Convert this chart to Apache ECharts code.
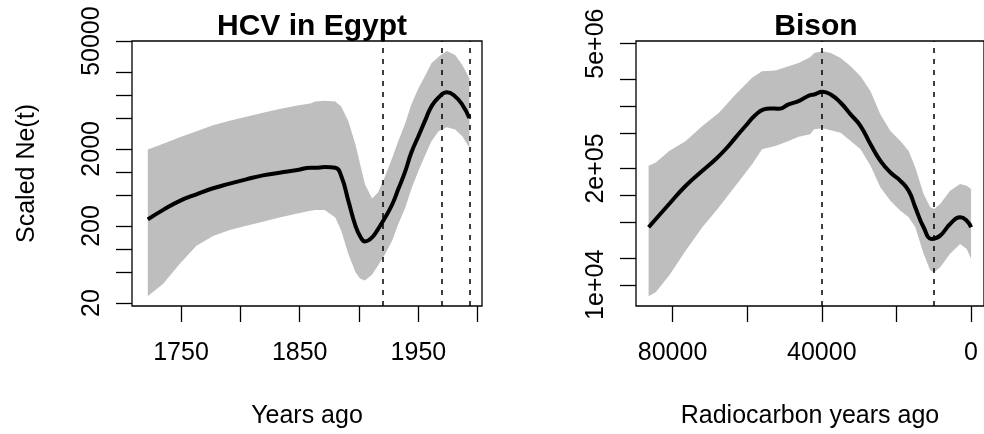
<!DOCTYPE html>
<html><head><meta charset="utf-8">
<script src="https://cdn.jsdelivr.net/npm/echarts@6/dist/echarts.min.js"></script>
<style>html,body{margin:0;padding:0;background:#fff}#c{width:984px;height:434px}</style>
</head><body><div id="c"></div>
<script>
// ---- HCV in Egypt ----
const hcvYears  = [1722,1735,1749,1763,1777,1791,1805,1819,1833,1848,1859,1863,1871,1880,1885,1891,1897,1901,1905,1911,1916,1922,1928,1933,1939,1944,1950,1956,1961,1967,1974,1981,1987,1993];
const hcvMedian = [243,323,423,515,616,707,804,906,980,1061,1137,1137,1160,1137,888,423,201,146,126,142,182,257,382,597,1030,1776,2914,4780,7105,9283,10870,9566,7466,5024];
const hcvUpper  = [1961,2320,2829,3381,4041,4641,5226,5888,6566,7319,7770,8245,8409,8245,7105,4550,2275,1256,693,453,541,888,1530,2511,4330,7466,12250,18200,25750,31390,37140,32980,24500,16490];
const hcvLower  = [24.4,35.5,64.4,111,148,177,201,226,257,290,314,323,323,257,173,86.6,50.2,41.2,39.2,46.9,61.2,86.6,129,211,347,597,1030,1690,2511,3381,3807,3553,2914,2060];
const hcvEvents = [1920, 1970, 1993];
const hcvYTicks = [20,50,100,200,500,1000,2000,5000,10000,20000,50000];
const hcvYLabels = [20,200,2000,50000];
const hcvXTicks = [1750,1800,1850,1900,1950,2000];
const hcvXLabels = [1750,1850,1950];

// ---- Bison ----
const bisonYears  = [86400,80900,76450,72000,68450,65790,63120,60450,57790,55560,53790,51560,48900,46230,43120,42050,39830,37610,34940,32280,29610,26940,24280,21610,18940,16720,14940,12720,10500,8280,5610,2940,1160,0];
const bisonMedian = [43990,80090,128200,188400,254100,328600,443200,597900,793000,917000,941000,933000,1043000,1136000,1325000,1348000,1443000,1348000,1088000,806600,597900,373500,243500,180500,145700,112700,73490,43990,32610,35520,47910,56850,52200,43990];
const bisonBandYears = [86410,84450,80900,76450,72010,67560,63120,58680,56010,52450,48900,46230,43120,42050,39830,37610,34940,32280,29610,26940,24280,21610,18940,16720,14940,12720,10940,9880,8280,5610,2940,1160,0];
const bisonUpper = [214200,233300,314800,406900,597900,842000,1348000,2068000,2454000,2496000,2790000,3039000,3516000,3929000,4101000,3929000,3456000,2790000,2159000,1469000,806600,526000,406900,314800,205200,103500,73490,70400,80090,112700,133800,128200,117700];
const bisonLower = [7420,8291,12720,24160,43990,73490,128200,223600,328600,357800,406900,454600,482800,548900,563200,534900,503800,406900,328600,214200,122800,87220,67480,56850,43990,22180,14460,13850,15750,22180,28670,25210,19510];
const bisonEvents = [40000, 10000];
const bisonYTicks = [1e4,2e4,5e4,1e5,2e5,5e5,1e6,2e6,5e6];
const bisonYLabels = [1e4,2e5,5e6];
const bisonXTicks = [0,20000,40000,60000,80000];
const bisonXLabels = [0,40000,80000];

const FONT = '"Liberation Sans", Arial, Helvetica, sans-serif';
const L = Math.log10;
const zip = (xs, ys, f) => xs.map((x, i) => [x, f(i)]);

function sciLabel(v) {
  const n = Math.round(Math.pow(10, v));
  const e = Math.floor(Math.log10(n) + 1e-9);
  const m = Math.round(n / Math.pow(10, e));
  return m + 'e+' + String(e).padStart(2, '0');
}

const tickStyle = { show: true, inside: false, length: 16, lineStyle: { color: '#000', width: 1.3 } };
const labelBase = { color: '#000', fontSize: 25, fontFamily: FONT, hideOverlap: false };
const noLine = { show: false, onZero: false };

function bandSeries(xi, yi, xs, lo, up) {
  return { type: 'custom', xAxisIndex: xi, yAxisIndex: yi, silent: true, z: 1, clip: true,
    encode: { x: 0, y: [1, 2] },
    data: xs.map((x, i) => [x, L(lo[i]), L(up[i])]),
    renderItem: (params, api) => {
      if (params.dataIndex !== 0) return null;
      const pts = [];
      for (let i = 0; i < xs.length; i++) pts.push(api.coord([xs[i], L(up[i])]));
      for (let i = xs.length - 1; i >= 0; i--) pts.push(api.coord([xs[i], L(lo[i])]));
      return { type: 'polygon', shape: { points: pts }, style: { fill: '#BEBEBE', stroke: null } };
    } };
}
function medianSeries(xi, yi, xs, med, events) {
  return { type: 'line', xAxisIndex: xi, yAxisIndex: yi, symbol: 'none', smooth: 0.5, silent: true,
    lineStyle: { color: '#000', width: 4 }, data: zip(xs, med, i => L(med[i])), z: 5,
    markLine: { silent: true, symbol: ['none', 'none'], label: { show: false },
      lineStyle: { color: '#000', width: 1.5, type: [5, 6] },
      data: events.map(e => ({ xAxis: e })) } };
}

const option = {
  animation: false,
  title: [
    { text: 'HCV in Egypt', left: 307, textAlign: 'center', top: 7,
      textStyle: { fontSize: 30, fontWeight: 'bold', color: '#000', fontFamily: FONT } },
    { text: 'Bison', left: 811, textAlign: 'center', top: 7,
      textStyle: { fontSize: 30, fontWeight: 'bold', color: '#000', fontFamily: FONT } }
  ],
  grid: [
    { left: 132, top: 41, width: 350, height: 266, show: true, borderColor: '#000', borderWidth: 1.3, containLabel: false },
    { left: 636, top: 41, width: 350, height: 266, show: true, borderColor: '#000', borderWidth: 1.3, containLabel: false }
  ],
  xAxis: [
    { type: 'value', gridIndex: 0, position: 'bottom', min: 1708.7, max: 2003.6, axisLine: noLine, splitLine: { show: false },
      axisTick: Object.assign({ customValues: hcvXTicks }, tickStyle),
      axisLabel: Object.assign({ customValues: hcvXLabels, margin: 35, formatter: v => String(v) }, labelBase),
      name: 'Years ago', nameLocation: 'middle', nameGap: 98,
      nameTextStyle: { color: '#000', fontSize: 25, fontFamily: FONT } },
    { type: 'value', gridIndex: 1, position: 'bottom', inverse: true, min: -3467, max: 89787, axisLine: noLine, splitLine: { show: false },
      axisTick: Object.assign({ customValues: bisonXTicks }, tickStyle),
      axisLabel: Object.assign({ customValues: bisonXLabels, margin: 35, formatter: v => String(v) }, labelBase),
      name: 'Radiocarbon years ago', nameLocation: 'middle', nameGap: 98,
      nameTextStyle: { color: '#000', fontSize: 25, fontFamily: FONT } }
  ],
  yAxis: [
    { type: 'value', gridIndex: 0, position: 'left', min: 1.2623, max: 4.7, axisLine: noLine, splitLine: { show: false },
      axisTick: Object.assign({ customValues: hcvYTicks.map(L) }, tickStyle),
      axisLabel: Object.assign({ customValues: hcvYLabels.map(L), rotate: 90, margin: 27,
        formatter: v => String(Math.round(Math.pow(10, v))) }, labelBase),
      name: 'Scaled Ne(t)', nameLocation: 'middle', nameRotate: 90, nameGap: 92,
      nameTextStyle: { color: '#000', fontSize: 25, fontFamily: FONT } },
    { type: 'value', gridIndex: 1, position: 'left', min: 3.7625, max: 6.728, axisLine: noLine, splitLine: { show: false },
      axisTick: Object.assign({ customValues: bisonYTicks.map(L) }, tickStyle),
      axisLabel: Object.assign({ customValues: bisonYLabels.map(L), rotate: 90, margin: 27,
        formatter: sciLabel }, labelBase) }
  ],
  series: [
    bandSeries(0, 0, hcvYears, hcvLower, hcvUpper),
    medianSeries(0, 0, hcvYears, hcvMedian, hcvEvents),
    bandSeries(1, 1, bisonBandYears, bisonLower, bisonUpper),
    medianSeries(1, 1, bisonYears, bisonMedian, bisonEvents)
  ]
};
const chart = echarts.init(document.getElementById('c'), null, { renderer: 'canvas' });
chart.setOption(option);
</script></body></html>
